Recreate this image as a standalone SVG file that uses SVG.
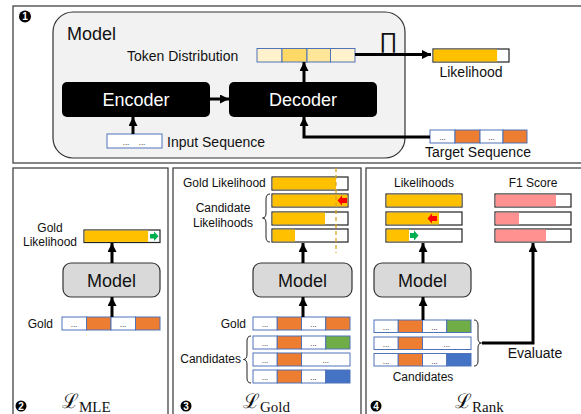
<svg xmlns="http://www.w3.org/2000/svg" width="581" height="414" viewBox="0 0 581 414">
<defs>
<marker id="ah" viewBox="0 0 10 10" refX="10" refY="5" markerWidth="9" markerHeight="9" markerUnits="userSpaceOnUse" orient="auto"><path d="M0,0 L10,5 L0,10 Z" fill="#000"/></marker>
<style>
text{font-family:"Liberation Sans",Arial,sans-serif;fill:#111}
.panel{fill:#fff;stroke:#444;stroke-width:1.3}
.cell{stroke:#4F72B8;stroke-width:1}
.w{fill:#fff}.o{fill:#ED7D31}.g{fill:#70AD47}.b{fill:#4472C4}
.bar{fill:#fff;stroke:#222;stroke-width:1.2}
.gold{fill:#FFC000}.pink{fill:#FF9191}
.mdl{fill:#D9D9D9;stroke:#333;stroke-width:1.2}
.arr{stroke:#000;stroke-width:3;fill:none}
.dots{font-size:8px;text-anchor:middle}
.t12{font-size:12px}.t14{font-size:14px}
.c{text-anchor:middle}.e{text-anchor:end}
.num{font-size:10px;font-weight:bold;fill:#fff;text-anchor:middle}
.brace{fill:none;stroke:#222;stroke-width:1}
.loss{font-family:"DejaVu Serif","Liberation Serif",serif;fill:#111}
</style>
</defs>

<!-- panels -->
<g id="panel1">
<rect class="panel" x="13" y="6" width="580" height="157"/>
<circle cx="25" cy="16.5" r="6" fill="#000"/><text class="num" x="25" y="20">1</text>
</g>
<g id="panel2">
<rect class="panel" x="13" y="168" width="155" height="260"/>
<circle cx="21" cy="406" r="5.5" fill="#000"/><text class="num" x="21" y="409.5">2</text>
<text class="loss" x="62" y="408" font-size="20">ℒ<tspan font-size="15" dy="4" font-family="Liberation Serif,serif">MLE</tspan></text>
</g>
<g id="panel3">
<rect class="panel" x="173" y="168" width="188" height="260"/>
<circle cx="186" cy="406" r="5.5" fill="#000"/><text class="num" x="186" y="409.5">3</text>
<text class="loss" x="243" y="408" font-size="20">ℒ<tspan font-size="15" dy="4" font-family="Liberation Serif,serif">Gold</tspan></text>
</g>
<g id="panel4">
<rect class="panel" x="366" y="168" width="230" height="260"/>
<circle cx="376" cy="406" r="5.5" fill="#000"/><text class="num" x="376" y="409.5">4</text>
<text class="loss" x="455" y="408" font-size="20">ℒ<tspan font-size="15" dy="4" font-family="Liberation Serif,serif">Rank</tspan></text>
</g>

<!-- panel 1 nodes -->
<g id="model-container">
<rect x="53" y="12" width="352" height="146" rx="20" fill="#F2F2F2" stroke="#333" stroke-width="1.2"/>
<text x="67" y="40" font-size="18">Model</text>
<text x="388" y="48" font-size="22" text-anchor="middle" font-family="DejaVu Serif,Liberation Serif,serif" font-weight="normal">∏</text>
</g>
<g id="token-distribution">
<text class="t14" x="127" y="61">Token Distribution</text>
<rect class="cell" x="257" y="48.5" width="25" height="13.5" fill="#FFF2CC"/>
<rect class="cell" x="282" y="48.5" width="25" height="13.5" fill="#FFD966"/>
<rect class="cell" x="307" y="48.5" width="23.5" height="13.5" fill="#FFE699"/>
<rect class="cell" x="330.5" y="48.5" width="24.5" height="13.5" fill="#FFF2CC"/>
</g>
<g id="encoder">
<rect x="62" y="82" width="148" height="35" rx="5" fill="#000"/>
<text x="136" y="106" font-size="18" class="c" style="fill:#fff">Encoder</text>
</g>
<g id="decoder">
<rect x="229" y="82" width="148" height="35" rx="5" fill="#000"/>
<text x="303" y="106" font-size="18" class="c" style="fill:#fff">Decoder</text>
</g>
<g id="input-sequence">
<rect x="107" y="134" width="55" height="14" fill="#fff" stroke="#4F72B8"/>
<text class="dots" x="126" y="145">...</text><text class="dots" x="142" y="145">...</text>
<text class="t14" x="167" y="147">Input Sequence</text>
</g>
<g id="likelihood">
<rect class="bar" x="433" y="49" width="76" height="13"/>
<rect class="gold" x="433.6" y="49.6" width="63.5" height="11.8"/>
<text class="t14 c" x="471" y="77">Likelihood</text>
</g>
<g id="target-sequence">
<rect class="cell w" x="430" y="130" width="25" height="13"/><text class="dots" x="442.5" y="140">...</text>
<rect class="cell o" x="455" y="130" width="25" height="13"/>
<rect class="cell w" x="480" y="130" width="23" height="13"/><text class="dots" x="491.5" y="140">...</text>
<rect class="cell o" x="503" y="130" width="24" height="13"/>
<text class="t14 c" x="478" y="157">Target Sequence</text>
</g>

<!-- panel 2 nodes -->
<g id="p2-gold-likelihood">
<text class="t12 c" x="50" y="232">Gold</text>
<text class="t12 c" x="50" y="246">Likelihood</text>
<rect class="bar" x="84" y="230" width="76" height="12.5"/>
<rect class="gold" x="84.6" y="230.6" width="63.5" height="11.3"/>
<polygon points="150,234 154,234 154,231.5 158.5,236.2 154,241 154,238.5 150,238.5" fill="#00B050"/>
</g>
<g id="p2-model">
<rect class="mdl" x="63" y="263" width="97" height="34" rx="8"/>
<text x="111.5" y="287" font-size="18" class="c">Model</text>
</g>
<g id="p2-gold">
<text class="t12 e" x="53" y="328">Gold</text>
<rect class="cell w" x="62" y="317" width="24.5" height="13"/><text class="dots" x="74" y="327">...</text>
<rect class="cell o" x="86.5" y="317" width="24.5" height="13"/>
<rect class="cell w" x="111" y="317" width="24.5" height="13"/><text class="dots" x="123" y="327">...</text>
<rect class="cell o" x="135.5" y="317" width="24.5" height="13"/>
</g>

<!-- panel 3 nodes -->
<g id="p3-likelihoods">
<text class="t12" x="183" y="187">Gold Likelihood</text>
<rect class="bar" x="272" y="177" width="76" height="13"/>
<rect class="gold" x="272.6" y="177.6" width="63.4" height="11.8"/>
<rect class="bar" x="272" y="194" width="76" height="13"/>
<rect class="gold" x="272.6" y="194.6" width="74.8" height="11.8"/>
<polygon points="347,198 342,198 342,195.5 337.5,200.5 342,205.5 342,203 347,203" fill="#FF0000"/>
<rect class="bar" x="272" y="212" width="76" height="13"/>
<rect class="gold" x="272.6" y="212.6" width="52.4" height="11.8"/>
<rect class="bar" x="272" y="229" width="76" height="13"/>
<rect class="gold" x="272.6" y="229.6" width="22.4" height="11.8"/>
<line x1="336" y1="168" x2="336" y2="253" stroke="#D9A520" stroke-width="1.3" stroke-dasharray="4,3"/>
<path class="brace" d="M270,194 Q266,194 266,199 L266,213 Q266,218 262.5,218 Q266,218 266,223 L266,237 Q266,242 270,242"/>
<text class="t12 c" x="223" y="212">Candidate</text>
<text class="t12 c" x="223" y="227">Likelihoods</text>
</g>
<g id="p3-model">
<rect class="mdl" x="253" y="263" width="99" height="34" rx="8"/>
<text x="302.5" y="287" font-size="18" class="c">Model</text>
</g>
<g id="p3-gold">
<text class="t12 e" x="246" y="328">Gold</text>
<rect class="cell w" x="253" y="317" width="24.25" height="13"/><text class="dots" x="265" y="327">...</text>
<rect class="cell o" x="277.25" y="317" width="24.25" height="13"/>
<rect class="cell w" x="301.5" y="317" width="24.25" height="13"/><text class="dots" x="313.5" y="327">...</text>
<rect class="cell o" x="325.75" y="317" width="24.25" height="13"/>
</g>
<g id="p3-candidates">
<rect class="cell w" x="253" y="336" width="24.25" height="13"/><text class="dots" x="265" y="346">...</text>
<rect class="cell o" x="277.25" y="336" width="24.25" height="13"/>
<rect class="cell w" x="301.5" y="336" width="24.25" height="13"/><text class="dots" x="313.5" y="346">...</text>
<rect class="cell g" x="325.75" y="336" width="24.25" height="13"/>
<rect class="cell w" x="253" y="353" width="24.25" height="13"/><text class="dots" x="265" y="363">...</text>
<rect class="cell o" x="277.25" y="353" width="24.25" height="13"/>
<rect class="cell w" x="301.5" y="353" width="48.5" height="13"/><text class="dots" x="325.75" y="363">...</text>
<rect class="cell w" x="253" y="370" width="24.25" height="13"/><text class="dots" x="265" y="380">...</text>
<rect class="cell o" x="277.25" y="370" width="24.25" height="13"/>
<rect class="cell w" x="301.5" y="370" width="24.25" height="13"/><text class="dots" x="313.5" y="380">...</text>
<rect class="cell b" x="325.75" y="370" width="24.25" height="13"/>
<path class="brace" d="M251,336 Q247,336 247,341 L247,354 Q247,359.5 243.5,359.5 Q247,359.5 247,365 L247,378 Q247,383 251,383"/>
<text class="t12 e" x="241" y="363">Candidates</text>
</g>

<!-- panel 4 nodes -->
<g id="p4-likelihoods">
<text class="t12 c" x="424" y="187">Likelihoods</text>
<rect class="bar" x="386" y="194" width="76" height="13"/>
<rect class="gold" x="386.6" y="194.6" width="74.8" height="11.8"/>
<rect class="bar" x="386" y="212" width="76" height="13"/>
<rect class="gold" x="386.6" y="212.6" width="52.4" height="11.8"/>
<polygon points="437,216 432,216 432,213.5 427.5,218.5 432,223.5 432,221 437,221" fill="#FF0000"/>
<rect class="bar" x="386" y="229" width="76" height="13"/>
<rect class="gold" x="386.6" y="229.6" width="22.4" height="11.8"/>
<polygon points="410,233 414,233 414,230.5 418.5,235.5 414,240.5 414,238 410,238" fill="#00B050"/>
</g>
<g id="p4-f1">
<text class="t12 c" x="533" y="187">F1 Score</text>
<rect class="bar" x="495" y="194" width="76" height="13"/>
<rect class="pink" x="495.6" y="194.6" width="60.4" height="11.8"/>
<rect class="bar" x="495" y="212" width="76" height="13"/>
<rect class="pink" x="495.6" y="212.6" width="23.4" height="11.8"/>
<rect class="bar" x="495" y="229" width="76" height="13"/>
<rect class="pink" x="495.6" y="229.6" width="50.4" height="11.8"/>
</g>
<g id="p4-model">
<rect class="mdl" x="374" y="263" width="97" height="34" rx="8"/>
<text x="422.5" y="287" font-size="18" class="c">Model</text>
</g>
<g id="p4-candidates">
<rect class="cell w" x="374" y="320" width="24.25" height="12.5"/><text class="dots" x="386" y="330">...</text>
<rect class="cell o" x="398.25" y="320" width="24.25" height="12.5"/>
<rect class="cell w" x="422.5" y="320" width="24.25" height="12.5"/><text class="dots" x="434.5" y="330">...</text>
<rect class="cell g" x="446.75" y="320" width="24.25" height="12.5"/>
<rect class="cell w" x="374" y="337" width="24.25" height="12.5"/><text class="dots" x="386" y="347">...</text>
<rect class="cell o" x="398.25" y="337" width="24.25" height="12.5"/>
<rect class="cell w" x="422.5" y="337" width="48.5" height="12.5"/><text class="dots" x="446.75" y="347">...</text>
<rect class="cell w" x="374" y="353.5" width="24.25" height="12.5"/><text class="dots" x="386" y="363.5">...</text>
<rect class="cell o" x="398.25" y="353.5" width="24.25" height="12.5"/>
<rect class="cell w" x="422.5" y="353.5" width="24.25" height="12.5"/><text class="dots" x="434.5" y="363.5">...</text>
<rect class="cell b" x="446.75" y="353.5" width="24.25" height="12.5"/>
<path class="brace" d="M474,320 Q478,320 478,325 L478,338 Q478,343 481.5,343 Q478,343 478,348 L478,361 Q478,366 474,366"/>
<text class="t12 c" x="423" y="381">Candidates</text>
<text class="t14 c" x="535" y="358">Evaluate</text>
</g>

<!-- connectors -->
<g id="connectors">
<line class="arr" x1="210" y1="99" x2="229" y2="99" marker-end="url(#ah)"/>
<line class="arr" x1="133" y1="134" x2="133" y2="117" marker-end="url(#ah)"/>
<line class="arr" x1="304" y1="82" x2="304" y2="62" marker-end="url(#ah)"/>
<line class="arr" x1="355" y1="54.5" x2="431" y2="54.5" marker-end="url(#ah)"/>
<path class="arr" d="M430,137 H304 V117" marker-end="url(#ah)"/>
<line class="arr" x1="112" y1="263" x2="112" y2="243" marker-end="url(#ah)"/>
<line class="arr" x1="112" y1="317" x2="112" y2="297" marker-end="url(#ah)"/>
<line class="arr" x1="303" y1="263" x2="303" y2="243" marker-end="url(#ah)"/>
<line class="arr" x1="303" y1="317" x2="303" y2="297" marker-end="url(#ah)"/>
<line class="arr" x1="423" y1="263" x2="423" y2="243" marker-end="url(#ah)"/>
<line class="arr" x1="423" y1="320" x2="423" y2="297" marker-end="url(#ah)"/>
<path class="arr" d="M482,343 H533 V243" marker-end="url(#ah)"/>
</g>
</svg>
